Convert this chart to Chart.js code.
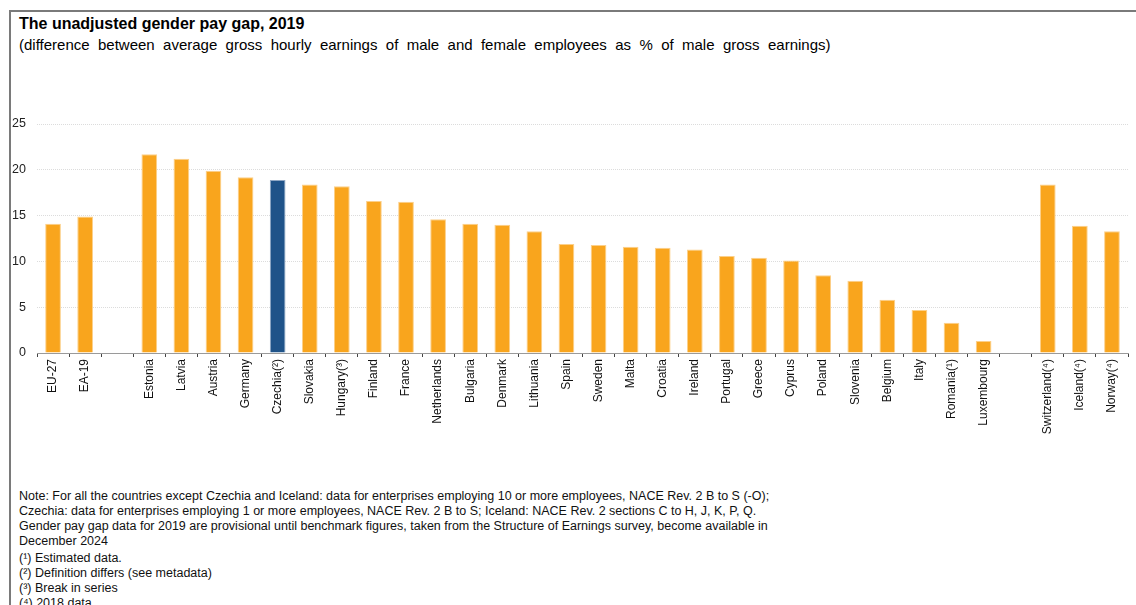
<!DOCTYPE html>
<html>
<head>
<meta charset="utf-8">
<script src="https://cdn.jsdelivr.net/npm/chart.js@4"></script>
<style>
    body { margin: 0; background: #fff; font-family: "Liberation Sans", Arial, sans-serif; color: #000; }
    #frame { position: absolute; left: 9px; top: 10px; right: 0; bottom: 0; border-top: 2px solid #7a7a7a; border-left: 2px solid #7a7a7a; }
    #title { position: absolute; left: 19px; top: 15px; font-size: 16px; font-weight: bold; }
    #subtitle { position: absolute; left: 19px; top: 36px; font-size: 15px; word-spacing: 4.2px; }
    #wrap { position: absolute; left: 0; top: 100px; width: 1136px; height: 350px; }
    #notes { position: absolute; left: 19px; top: 489px; font-size: 12.5px; line-height: 15px; color: #111; }
    #notes p { margin: 0; }
</style>
</head>
<body>
<div id="frame"></div>
<div id="title">The unadjusted gender pay gap, 2019</div>
<div id="subtitle">(difference between average gross hourly earnings of male and female employees as % of male gross earnings)</div>
<div id="wrap"><canvas id="barChart"></canvas></div>
<div id="notes">
    <p>Note: For all the countries except Czechia and Iceland: data for enterprises employing 10 or more employees, NACE Rev. 2 B to S (-O);</p>
    <p>Czechia: data for enterprises employing 1 or more employees, NACE Rev. 2 B to S; Iceland: NACE Rev. 2 sections C to H, J, K, P, Q.</p>
    <p>Gender pay gap data for 2019 are provisional until benchmark figures, taken from the Structure of Earnings survey, become available in</p>
    <p style="margin-bottom:2px">December 2024</p>
    <p>(¹) Estimated data.</p>
    <p>(²) Definition differs (see metadata)</p>
    <p>(³) Break in series</p>
    <p>(⁴) 2018 data.</p>
</div>
<script>
// empty strings are spacer slots between the groups
const countries = ['EU-27', 'EA-19', '', 'Estonia', 'Latvia', 'Austria', 'Germany', 'Czechia(²)', 'Slovakia',
    'Hungary(³)', 'Finland', 'France', 'Netherlands', 'Bulgaria', 'Denmark', 'Lithuania', 'Spain', 'Sweden',
    'Malta', 'Croatia', 'Ireland', 'Portugal', 'Greece', 'Cyprus', 'Poland', 'Slovenia', 'Belgium', 'Italy',
    'Romania(¹)', 'Luxembourg', '', 'Switzerland(⁴)', 'Iceland(⁴)', 'Norway(⁴)'];

const payGap = [14.1, 14.9, null, 21.7, 21.2, 19.9, 19.2, 18.9, 18.4,
    18.2, 16.6, 16.5, 14.6, 14.1, 14.0, 13.3, 11.9, 11.8,
    11.6, 11.5, 11.3, 10.6, 10.4, 10.1, 8.5, 7.9, 5.8, 4.7,
    3.3, 1.3, null, 18.4, 13.9, 13.3];

const yTicks = [0, 5, 10, 15, 20, 25];

const orange = '#F9A51D';
const blue = '#1F5389';

const barColors = countries.map(c => c.startsWith('Czechia') ? blue : orange);
const edgeColors = countries.map(c => c.startsWith('Czechia') ? '#8fa7c4' : '#fcd08a');

new Chart(document.getElementById('barChart'), {
    type: 'bar',
    data: {
        labels: countries,
        datasets: [{
            label: 'Gender pay gap (%)',
            data: payGap,
            backgroundColor: barColors,
            borderColor: edgeColors,
            borderWidth: 1,
            barPercentage: 0.49,
            categoryPercentage: 1
        }]
    },
    options: {
        responsive: true,
        maintainAspectRatio: false,
        animation: false,
        layout: {
            padding: { left: 10, right: 8, top: 24, bottom: 0 }
        },
        plugins: {
            legend: { display: false },
            tooltip: { enabled: false }
        },
        scales: {
            x: {
                afterFit: scale => { scale.height = 97; },
                grid: {
                    offset: true,
                    drawOnChartArea: false,
                    drawTicks: true,
                    tickLength: 4,
                    color: '#444'
                },
                border: { display: true, color: '#9a9a9a', width: 1 },
                ticks: {
                    autoSkip: false,
                    maxRotation: 90,
                    minRotation: 90,
                    padding: 2,
                    color: '#111',
                    font: { family: 'Liberation Sans', size: 12 }
                }
            },
            y: {
                min: yTicks[0],
                max: yTicks[yTicks.length - 1],
                afterFit: scale => { scale.width = 27; },
                afterBuildTicks: scale => { scale.ticks = yTicks.map(v => ({ value: v })); },
                grid: {
                    drawTicks: false,
                    color: '#dcdcdc',
                    lineWidth: 1
                },
                border: { display: false, dash: [1, 1] },
                ticks: {
                    padding: 11,
                    color: '#222',
                    font: { family: 'Liberation Sans', size: 12.5 }
                }
            }
        }
    }
});
</script>
</body>
</html>
